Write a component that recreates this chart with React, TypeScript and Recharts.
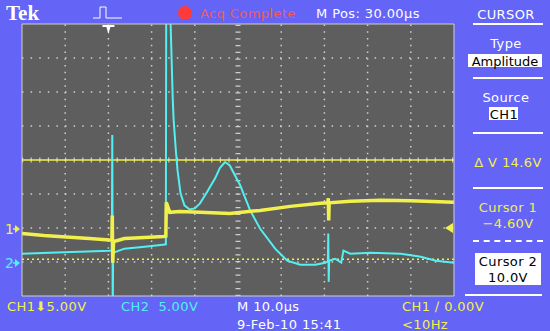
import React from 'react';
import { ComposedChart, Line, XAxis, YAxis, ReferenceLine, ReferenceDot, CartesianGrid } from 'recharts';

// time in µs from the left edge of the screen, values in volts
const ch1Time = [0, 5.1, 10.2, 15.6, 20.2, 20.8, 20.9, 21.0, 21.2, 23.7, 28.4, 32.8, 33.3, 33.4, 34.2, 36.5, 41.2, 48.1, 55.1, 62.1, 69.1, 70.8, 70.9, 71.0, 71.1, 76.0, 83.0, 90.0, 100];
const ch1Volts = [-0.81, -1.11, -1.33, -1.55, -1.78, -1.8, 1.85, -5.1, -2.0, -1.55, -1.41, -1.26, -1.2, 3.78, 2.3, 2.44, 2.3, 2.15, 2.59, 3.18, 3.63, 3.7, 4.37, 1.11, 3.7, 3.92, 4.07, 4.0, 3.77];

const ch2Time = [0, 6.3, 13.3, 20.2, 20.8, 20.9, 21.0, 21.1, 23.7, 28.4, 32.6, 33.3, 33.4, 34.2, 34.4, 34.7, 34.9, 35.1, 35.6, 36.0, 36.7, 37.6, 38.8, 40.0, 41.2, 42.8, 44.7, 45.8, 47.0, 48.1, 50.5, 52.8, 55.1, 58.6, 61.4, 64.4, 67.9, 70.2, 70.8, 70.9, 71.0, 71.1, 72.5, 73.9, 74.4, 76.0, 80.7, 87.7, 92.3, 95.8, 100];
const ch2Volts = [1.22, 1.37, 1.52, 1.67, 1.7, 18.69, -8, 1.37, 1.96, 2.26, 2.55, 2.6, 45, 45, 35.0, 28.3, 23.9, 20.9, 16.5, 13.5, 10.1, 8.33, 7.73, 7.88, 8.62, 10.25, 12.3, 13.8, 14.7, 14.2, 11.3, 7.6, 4.92, 1.96, 0.19, -0.41, -0.41, -0.11, 0.1, 4.18, -2.92, 0.19, 0.48, -0.1, 1.67, 1.22, 1.37, 1.22, 0.78, 0.19, -0.11];

const ch1VoltsPerDiv = 5;
const ch2VoltsPerDiv = 5;
const ch1Ground = -2; // divisions from centre
const ch2Ground = -3;
const cursorVolts = [10.0, -4.6];
const triggerTime = 20;
const triggerLevel = 0;

const timeDivs = [10, 20, 30, 40, 60, 70, 80, 90];
const voltDivs = [-3, -2, -1, 1, 2, 3];
const xMinor = Array.from({ length: 51 }, (_, i) => i * 2);
const yMinor = Array.from({ length: 41 }, (_, i) => -4 + i * 0.2);

const ch1Data = ch1Time.map((t, i) => ({ t, d: ch1Volts[i] / ch1VoltsPerDiv + ch1Ground }));
const ch2Data = ch2Time.map((t, i) => ({ t, d: ch2Volts[i] / ch2VoltsPerDiv + ch2Ground }));

const BLUE = '#6464f6';
const YELLOW = '#f2f04c';
const CYAN = '#52f0f0';
const GRID = '#cfcfcf';

const Txt = ({ x, y, color = '#fff', size = 13, children, center, style }: any) => (
  <div
    style={{
      position: 'absolute',
      left: center ? x - 60 : x,
      width: center ? 120 : undefined,
      textAlign: center ? 'center' : 'left',
      top: y,
      transform: 'translateY(-50%)',
      color,
      fontSize: size,
      lineHeight: 1,
      whiteSpace: 'pre',
      letterSpacing: 0.4,
      ...style,
    }}
  >
    {children}
  </div>
);

const Sep = ({ y, x1 = 473, x2 = 543, dashed }: any) => (
  <div style={{ position: 'absolute', left: x1, top: y - 1, width: x2 - x1, borderTop: `2px ${dashed ? 'dashed' : 'solid'} #fff` }} />
);

const Box = ({ x, y, w, h }: any) => (
  <div style={{ position: 'absolute', left: x, top: y, width: w, height: h, background: '#fff' }} />
);

const ChMarker = ({ cx, cy, label, color }: any) => (
  <g>
    <text x={cx - 17} y={cy + 6} fill={color} fontSize={14} fontFamily="DejaVu Sans">{label}</text>
    <polygon points={`${cx - 7},${cy - 3} ${cx - 2},${cy + 1} ${cx - 7},${cy + 5}`} fill={color} />
    <line x1={cx - 9} y1={cy + 1} x2={cx - 5} y2={cy + 1} stroke={color} strokeWidth={1.5} />
  </g>
);

export default function App() {
  return (
    <div style={{ position: 'fixed', left: 0, top: 0, width: 550, height: 331, background: BLUE, overflow: 'hidden', fontFamily: '"DejaVu Sans", sans-serif' }}>
      <ComposedChart width={550} height={331} margin={{ top: 24, left: 22, right: 96, bottom: 35 }} style={{ position: 'absolute', left: 0, top: 0 }}>
        <CartesianGrid xAxisId="t" yAxisId="d" horizontal={false} vertical={false} fill="#5e5e5e" fillOpacity={1} />
        <XAxis xAxisId="t" dataKey="t" type="number" domain={[0, 100]} ticks={xMinor} tick={false} tickSize={3} mirror height={1} stroke={GRID} allowDataOverflow />
        <XAxis xAxisId="top" orientation="top" type="number" domain={[0, 100]} ticks={xMinor} tick={false} tickSize={3} mirror height={1} stroke={GRID} />
        <YAxis yAxisId="d" type="number" domain={[-4, 4]} ticks={yMinor} tick={false} tickSize={3} mirror width={1} stroke={GRID} allowDataOverflow />
        <YAxis yAxisId="right" orientation="right" type="number" domain={[-4, 4]} ticks={yMinor} tick={false} tickSize={3} mirror width={1} stroke={GRID} />
        {timeDivs.map((v) => (
          <ReferenceLine key={'x' + v} xAxisId="t" yAxisId="d" x={v} stroke={GRID} strokeWidth={1.5} strokeDasharray="1.5 5.25" />
        ))}
        {voltDivs.map((v) => (
          <ReferenceLine key={'y' + v} xAxisId="t" yAxisId="d" y={v} stroke={GRID} strokeWidth={1.5} strokeDasharray="1.5 7.1" />
        ))}
        <ReferenceLine xAxisId="t" yAxisId="d" x={50} stroke={GRID} strokeWidth={5} strokeDasharray="1.2 5.55" />
        <ReferenceLine xAxisId="t" yAxisId="d" y={0} stroke={GRID} strokeWidth={5} strokeDasharray="1.2 7.4" />
        <ReferenceLine xAxisId="t" yAxisId="d" y={cursorVolts[0] / ch1VoltsPerDiv + ch1Ground} stroke={YELLOW} strokeWidth={1.5} />
        <ReferenceLine xAxisId="t" yAxisId="d" y={cursorVolts[1] / ch1VoltsPerDiv + ch1Ground} stroke={YELLOW} strokeWidth={1.5} strokeDasharray="2 3" />
        <Line xAxisId="t" yAxisId="d" data={ch2Data} dataKey="d" type="linear" stroke={CYAN} strokeWidth={2} dot={false} isAnimationActive={false} />
        <Line xAxisId="t" yAxisId="d" data={ch1Data} dataKey="d" type="linear" stroke={YELLOW} strokeWidth={3.5} dot={false} isAnimationActive={false} />
        <ReferenceDot
          xAxisId="t" yAxisId="d" x={triggerTime} y={4} ifOverflow="visible"
          shape={(p: any) => <polygon points={`${p.cx - 6},${p.cy + 1} ${p.cx + 6},${p.cy + 1} ${p.cx + 6},${p.cy + 3} ${p.cx + 2},${p.cy + 3} ${p.cx},${p.cy + 10} ${p.cx - 2},${p.cy + 3} ${p.cx - 6},${p.cy + 3}`} fill="#fff" />}
        />
        <ReferenceDot
          xAxisId="t" yAxisId="d" x={100} y={triggerLevel / ch1VoltsPerDiv + ch1Ground} ifOverflow="visible"
          shape={(p: any) => <polygon points={`${p.cx - 1},${p.cy - 5} ${p.cx - 1},${p.cy + 5} ${p.cx - 9},${p.cy}`} fill={YELLOW} />}
        />
        <ReferenceDot xAxisId="t" yAxisId="d" x={0} y={ch1Ground} ifOverflow="visible" shape={(p: any) => <ChMarker {...p} label="1" color={YELLOW} />} />
        <ReferenceDot xAxisId="t" yAxisId="d" x={0} y={ch2Ground} ifOverflow="visible" shape={(p: any) => <ChMarker {...p} label="2" color={CYAN} />} />
      </ComposedChart>

      {/* header */}
      <Txt x={6} y={13} size={21} style={{ fontFamily: '"Liberation Serif", serif', fontWeight: 'bold', letterSpacing: 0 }}>Tek</Txt>
      <svg style={{ position: 'absolute', left: 92, top: 4 }} width={32} height={16}>
        <path d="M1 14 H8 V3 H14 V14 H30" stroke="#fff" fill="none" strokeWidth={1} />
      </svg>
      <div style={{ position: 'absolute', left: 178, top: 6, width: 14, height: 14, borderRadius: 7, background: '#ff3a3a' }} />
      <Txt x={200} y={13} color="#f25a5a">Acq Complete</Txt>
      <Txt x={316} y={13}>M Pos: 30.00µs</Txt>

      {/* side menu */}
      <Txt x={506} y={14} center>CURSOR</Txt>
      <Sep y={24} />
      <Txt x={506} y={43} center>Type</Txt>
      <Box x={468} y={54} w={74} h={13} />
      <Txt x={505} y={61} center color="#000" style={{ letterSpacing: 0 }}>Amplitude</Txt>
      <Sep y={78} />
      <Txt x={506} y={97} center>Source</Txt>
      <Box x={489} y={107} w={29} h={13} />
      <Txt x={504} y={114} center color="#000">CH1</Txt>
      <Sep y={133} />
      <Txt x={508} y={162} center color={YELLOW}>Δ V 14.6V</Txt>
      <Sep y={188} />
      <Txt x={508} y={207} center color={YELLOW}>Cursor 1</Txt>
      <Txt x={508} y={223} center color={YELLOW}>−4.60V</Txt>
      <Sep y={241} dashed />
      <Box x={475} y={253} w={66} h={32} />
      <Txt x={508} y={261} center color="#000">Cursor 2</Txt>
      <Txt x={508} y={277} center color="#000">10.0V</Txt>
      <Sep y={295} x1={465} x2={542} />

      {/* footer */}
      <Txt x={7} y={306} color={YELLOW}>CH1⬇5.00V</Txt>
      <Txt x={121} y={306} color={CYAN}>CH2  5.00V</Txt>
      <Txt x={237} y={306}>M 10.0µs</Txt>
      <Txt x={402} y={306} color={YELLOW}>CH1 ∕ 0.00V</Txt>
      <Txt x={237} y={324}>9-Feb-10 15:41</Txt>
      <Txt x={402} y={324} color={YELLOW}>&lt;10Hz</Txt>
    </div>
  );
}
